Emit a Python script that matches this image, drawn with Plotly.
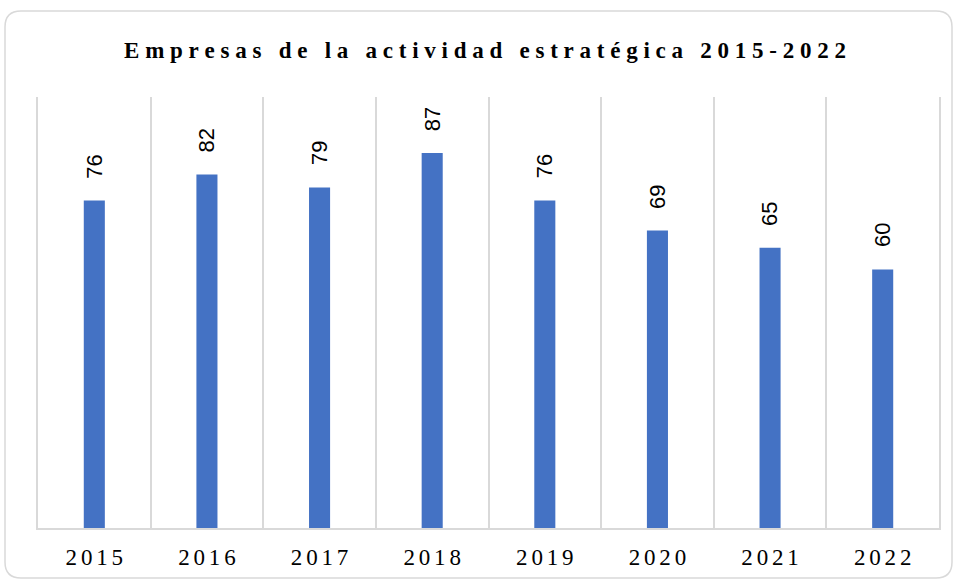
import plotly.graph_objects as go

years = ["2015", "2016", "2017", "2018", "2019", "2020", "2021", "2022"]
empresas = [76, 82, 79, 87, 76, 69, 65, 60]
title_text = "Empresas de la actividad estratégica 2015-2022"

W, H = 954, 580
ML, MR, MT, MB = 38, 15, 97, 52
PW, PH = W - ML - MR, H - MT - MB


def spaced(s, sp):
    return sp.join(list(s))


def px2paper(x, y):
    return (x - ML) / PW, (H - MB - y) / PH


fig = go.Figure()
fig.add_trace(go.Bar(
    x=[spaced(y, "\u2006") for y in years],
    y=empresas,
    width=0.187,
    marker=dict(color="#4472C4", line=dict(width=0)),
    hoverinfo="x+y",
))

for yr, v in zip(years, empresas):
    fig.add_annotation(
        x=spaced(yr, "\u2006"), y=v, text=str(v), textangle=-90,
        showarrow=False, xanchor="center", yanchor="bottom", yshift=20,
        font=dict(family="Liberation Sans", size=22, color="#000000"),
    )

# rounded border around chart area
x0, y0 = 5, 11
x1, y1 = 952, 578
r = 16
def P(x, y):
    a, b = px2paper(x, y)
    return f"{a:.5f},{b:.5f}"
path = (f"M {P(x0 + r, y0)} L {P(x1 - r, y0)} Q {P(x1, y0)} {P(x1, y0 + r)} "
        f"L {P(x1, y1 - r)} Q {P(x1, y1)} {P(x1 - r, y1)} "
        f"L {P(x0 + r, y1)} Q {P(x0, y1)} {P(x0, y1 - r)} "
        f"L {P(x0, y0 + r)} Q {P(x0, y0)} {P(x0 + r, y0)} Z")
fig.add_shape(type="path", path=path, xref="paper", yref="paper",
              line=dict(color="#d9d9d9", width=1.5), layer="below")

fig.update_layout(
    width=W, height=H,
    margin=dict(l=ML, r=MR, t=MT, b=MB),
    paper_bgcolor="white", plot_bgcolor="white",
    showlegend=False,
    title=dict(
        text=spaced(title_text, "\u2005"),
        x=485 / W, xref="container", xanchor="center",
        y=1 - 50 / H, yref="container", yanchor="middle",
        font=dict(family="Liberation Serif", size=23, color="#000000", weight="bold"),
        automargin=False,
    ),
    xaxis=dict(
        type="category", tickson="boundaries", showgrid=True,
        gridcolor="#d9d9d9", gridwidth=1.5,
        showline=True, linecolor="#d9d9d9", linewidth=1.5,
        ticks="", ticklabelstandoff=8, automargin=False,
        tickfont=dict(family="Liberation Serif", size=23, color="#000000"),
        range=[-0.5, 7.5],
    ),
    yaxis=dict(
        range=[0, 100], showgrid=False, zeroline=False, showticklabels=False,
        showline=True, mirror=True, linecolor="#d9d9d9", linewidth=1.5, ticks="",
        automargin=False,
    ),
)

fig.write_html("out.html", config={"displayModeBar": False},
               post_script="document.body.style.margin='0px';document.body.style.overflow='hidden';")
